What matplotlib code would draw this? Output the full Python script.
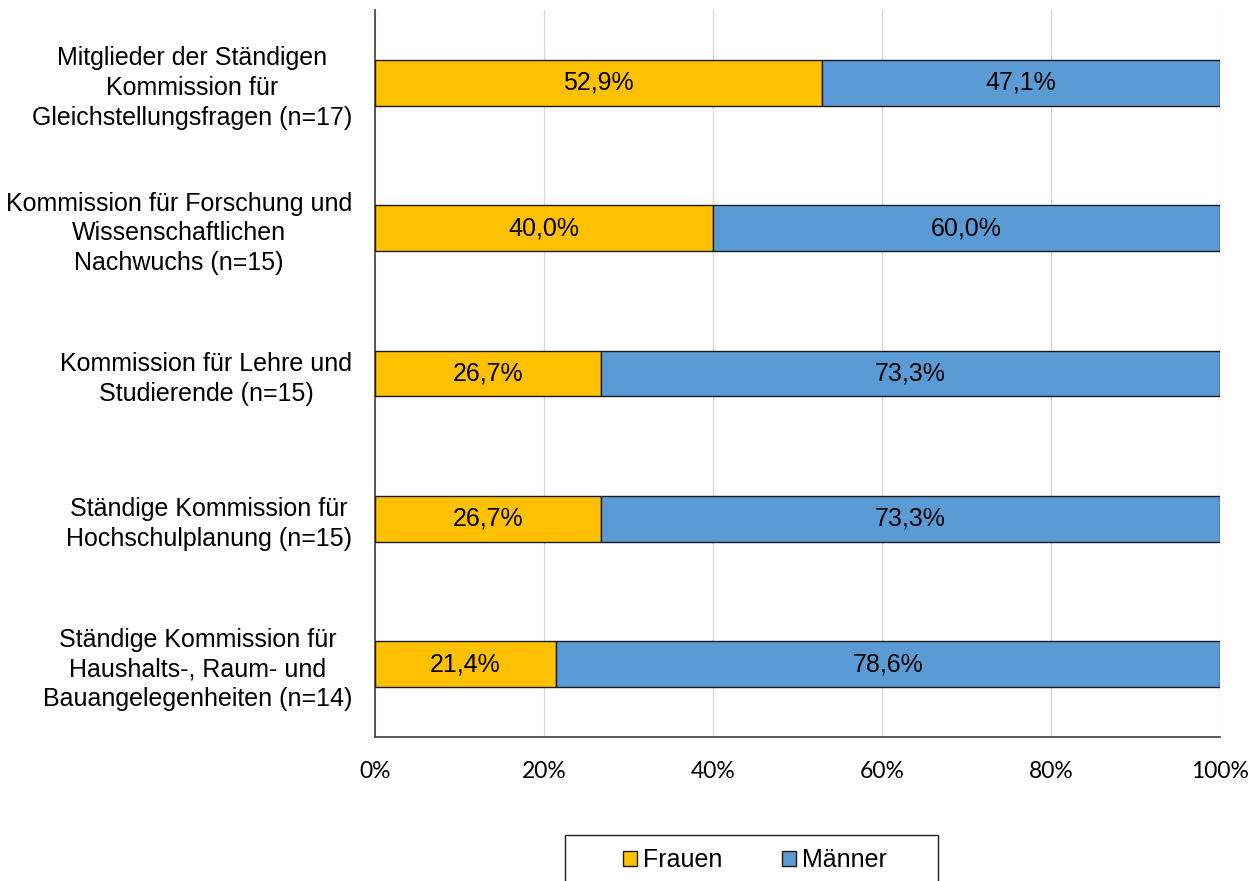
import matplotlib.pyplot as plt
from matplotlib.patches import Rectangle

# Daten
kategorien = [
    'Mitglieder der Ständigen\nKommission für\nGleichstellungsfragen (n=17)',
    'Kommission für Forschung und\nWissenschaftlichen\nNachwuchs (n=15)',
    'Kommission für Lehre und\nStudierende (n=15)',
    'Ständige Kommission für\nHochschulplanung (n=15)',
    'Ständige Kommission für\nHaushalts-, Raum- und\nBauangelegenheiten (n=14)',
]
frauen = [52.9, 40.0, 26.7, 26.7, 21.4]
maenner = [47.1, 60.0, 73.3, 73.3, 78.6]
x_ticks = [0, 20, 40, 60, 80, 100]

farbe_frauen = '#FFC000'
farbe_maenner = '#5B9BD5'

fig = plt.figure(figsize=(12.6, 8.81), dpi=100)
ax = fig.add_axes([375 / 1260, 1 - 737 / 881, 845 / 1260, 727 / 881])

pos = list(range(len(kategorien)))
b1 = ax.barh(pos, frauen, height=0.315, color=farbe_frauen, edgecolor='#1a1a1a',
             linewidth=1, label='Frauen', zorder=3)
b2 = ax.barh(pos, maenner, left=frauen, height=0.315, color=farbe_maenner,
             edgecolor='#1a1a1a', linewidth=1, label='Männer', zorder=3)

for bars, werte in [(b1, frauen), (b2, maenner)]:
    ax.bar_label(bars, labels=[f'{v:.1f}%'.replace('.', ',') for v in werte],
                 label_type='center', fontsize=18, family='Liberation Sans',
                 color='black')

ax.set_xlim(0, 100)
ax.set_ylim(4.5, -0.5)
ax.set_yticks(pos)
ax.set_yticklabels(kategorien, fontsize=18, family='Liberation Sans',
                   multialignment='center', linespacing=1.3)
ax.set_xticks(x_ticks)
ax.set_xticklabels([f'{t}%' for t in x_ticks], fontsize=16.5, family='Lato')
ax.tick_params(axis='both', length=0)
ax.tick_params(axis='x', pad=17)
ax.tick_params(axis='y', pad=16.5)

ax.grid(axis='x', color='#D9D9D9', linewidth=1, zorder=0)
for s in ['top', 'right']:
    ax.spines[s].set_visible(False)
for s in ['left', 'bottom']:
    ax.spines[s].set_color('#404040')
    ax.spines[s].set_linewidth(1.2)

# Legende mit eigenem Rahmen
fig.patches.append(Rectangle((565 / 1260, 1 - 895 / 881), 373 / 1260, 60 / 881,
                             transform=fig.transFigure, fill=False,
                             edgecolor='#1a1a1a', linewidth=1))
fig.legend(handles=[b1, b2], loc='center', bbox_to_anchor=(755 / 1260, 1 - 860 / 881),
           ncol=2, frameon=False, prop={'family': 'Liberation Sans', 'size': 18},
           handlelength=0.55, handleheight=0.55, handletextpad=0.25,
           columnspacing=2.4)

fig.savefig('out.png', dpi=100)
